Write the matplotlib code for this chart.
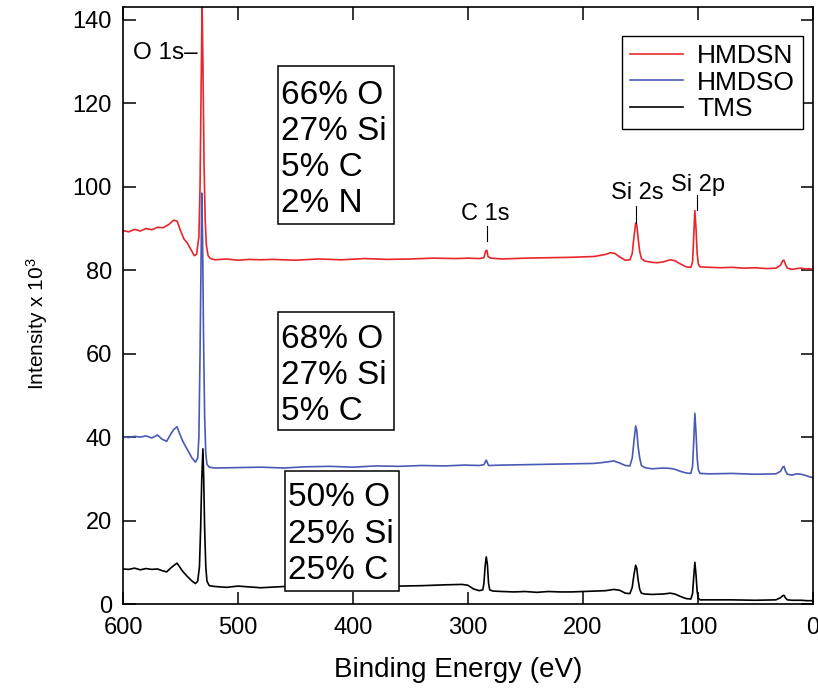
import matplotlib
matplotlib.use("Agg")
import matplotlib.pyplot as plt
from matplotlib.patches import Rectangle

plt.rcParams["font.family"] = ["Liberation Sans", "DejaVu Sans"]
plt.rcParams["mathtext.default"] = "regular"

# survey spectra, binding energy (eV) vs counts (x 10^3)
HMDSN_E = [600, 595, 590, 585, 580, 575, 570, 565, 560, 556, 553, 550, 547, 544, 541, 538, 536,
           534, 533, 532, 531.2, 530.5, 529.5, 528.5, 527.5, 526, 524, 520, 510, 500, 490, 480,
           470, 450, 430, 410, 390, 370, 350, 330, 310, 300, 290, 286, 284.5, 283.5, 282.5, 280,
           270, 250, 230, 210, 190, 180, 176, 172, 168, 163, 159, 157, 155.5, 154, 153, 152,
           150.5, 149, 146, 140, 135, 130, 124, 120, 115, 110, 106, 104.5, 103.5, 102.5, 101.5,
           100.5, 99.5, 98, 90, 80, 70, 60, 50, 40, 32, 28, 26, 25, 23.5, 22, 18, 14, 10, 6, 3, 0]
HMDSN_I = [89.5, 89.2, 89.8, 89.4, 90.0, 89.7, 90.3, 90.2, 91.0, 92.0, 91.8, 89.5, 87.5, 86.5,
           85.0, 83.5, 83.8, 88.0, 100.0, 125.0, 143.5, 130.0, 105.0, 92.0, 86.0, 83.5, 82.8,
           82.5, 82.7, 82.4, 82.6, 82.5, 82.6, 82.4, 82.7, 82.5, 82.8, 82.6, 82.7, 82.9, 82.8,
           82.9, 82.8, 83.0, 84.6, 84.8, 83.3, 82.9, 82.7, 82.9, 83.0, 83.1, 83.3, 83.8, 84.2,
           84.0, 83.2, 82.4, 82.5, 84.0, 88.0, 91.3, 90.8, 88.0, 84.5, 82.8, 82.2, 81.9, 81.8,
           82.0, 82.5, 82.3, 81.5, 80.8, 80.7, 82.0, 88.0, 94.3, 90.0, 84.0, 81.5, 80.8, 80.7,
           80.6, 80.7, 80.5, 80.6, 80.4, 80.5, 81.2, 82.3, 82.4, 81.3, 80.5, 80.2, 80.4, 80.5,
           80.3, 80.4, 80.2]

HMDSO_E = [600, 595, 590, 585, 580, 575, 570, 566, 562, 559, 556, 553, 551, 548, 544, 540, 537,
           535, 534, 533, 532, 531.5, 530.8, 530, 529, 528, 527, 525, 520, 500, 480, 460, 440,
           420, 400, 380, 360, 340, 320, 303, 290, 286, 284, 282, 270, 250, 230, 210, 190, 180,
           173, 168, 163, 159, 157, 155.5, 154, 153, 152, 150.5, 149, 146, 140, 130, 124, 120,
           115, 110, 106, 104.5, 103.5, 102.5, 101.5, 100.5, 99.5, 98, 90, 70, 50, 32, 28, 26,
           25, 23.5, 22, 18, 14, 10, 6, 3, 0]
HMDSO_I = [40.1, 39.9, 40.2, 40.0, 40.3, 39.8, 40.5, 39.5, 39.0, 40.5, 41.8, 42.5, 41.0, 39.0,
           37.0, 35.0, 34.0, 35.0, 40.0, 60.0, 85.0, 98.5, 88.0, 65.0, 45.0, 36.0, 33.5, 32.8,
           32.6, 32.7, 32.8, 32.6, 32.9, 33.0, 32.8, 33.1, 33.0, 33.2, 33.1, 33.3, 33.2, 33.4,
           34.5, 33.2, 33.3, 33.4, 33.5, 33.6, 33.7, 34.0, 34.3, 33.8, 33.2, 33.1, 35.0, 39.0,
           42.7, 41.5, 38.0, 35.0, 33.2, 32.7, 32.4, 32.6, 32.5, 32.3, 31.8, 31.4, 31.3, 33.0,
           39.0, 45.7, 41.0, 35.0, 32.2, 31.3, 31.2, 31.3, 31.1, 31.2, 31.8, 32.8, 33.0, 31.8,
           31.1, 30.9, 31.2, 31.1, 30.8, 30.5, 30.3]

TMS_E = [600, 595, 590, 585, 580, 575, 570, 566, 562, 559, 556, 553, 551, 548, 544, 540, 537,
         535, 533.5, 532.5, 531.5, 530.5, 529.8, 529, 528, 527, 525, 520, 510, 500, 490, 480,
         460, 440, 420, 400, 380, 360, 340, 320, 305, 300, 295, 290, 287, 286, 285, 284, 283,
         282, 281, 278, 270, 260, 250, 240, 230, 220, 210, 200, 190, 180, 173, 168, 163, 159,
         157, 155.5, 154, 153, 152, 150.5, 149, 146, 140, 130, 124, 120, 115, 110, 106, 104.5,
         103.5, 102.5, 101.5, 100.5, 99.5, 98, 90, 70, 50, 32, 28, 26, 25, 23.5, 22, 18, 10, 5, 0]
TMS_I = [8.4, 8.3, 8.6, 8.2, 8.5, 8.3, 8.4, 8.0, 7.7, 8.5, 9.2, 9.8, 9.0, 7.8, 6.6, 5.5, 4.9, 5.5,
         9.0, 18.0, 30.0, 37.2, 30.0, 18.0, 9.0, 5.5, 4.4, 4.2, 4.0, 4.3, 4.1, 3.9, 4.2, 4.1, 4.3,
         4.2, 4.3, 4.3, 4.4, 4.6, 4.7, 4.5, 3.6, 3.2, 3.4, 5.0, 9.0, 11.3, 9.5, 5.0, 3.4, 3.1,
         3.0, 2.9, 3.0, 2.8, 3.0, 2.9, 2.9, 3.0, 3.1, 3.2, 3.5, 3.3, 2.6, 2.5, 4.0, 7.0, 9.3,
         8.5, 6.0, 3.5, 2.6, 2.4, 2.3, 2.4, 2.6, 2.4, 1.8, 1.3, 1.2, 2.5, 6.5, 10.0, 7.0, 3.0,
         1.4, 1.0, 1.0, 1.0, 0.9, 1.0, 1.5, 2.0, 2.1, 1.4, 1.0, 0.9, 0.9, 0.8, 0.8]

SERIES = [("HMDSN", HMDSN_E, HMDSN_I, "#e8262c"),
          ("HMDSO", HMDSO_E, HMDSO_I, "#4a59b5"),
          ("TMS", TMS_E, TMS_I, "black")]

# atomic composition of each film
COMPOSITION = ["66% O\n27% Si\n5% C\n2% N",
               "68% O\n27% Si\n5% C",
               "50% O\n25% Si\n25% C"]
# frame (left, right, bottom, top in data units) and last-line baseline for each box
BOX_FRAMES = [(464.8, 364.6, 91.1, 129.05),
              (464.8, 364.6, 41.6, 69.9),
              (459.5, 360.3, 3.2, 32.0)]
BOX_TEXT_XY = [(462.2, 94.0), (462.2, 44.1), (456.9, 6.1)]

# peak labels: (text, text x, text y, tick x, tick y0, tick y1)
PEAKS = [("C 1s", 284.6, 92.1, 283.3, 86.9, 90.5),
         ("Si 2s", 153.0, 97.0, 153.5, 91.3, 95.3),
         ("Si 2p", 100.0, 99.1, 101.0, 94.5, 98.1)]

fig = plt.figure(figsize=(8.18, 6.9), dpi=100)
ax = fig.add_axes([0.1504, 0.1246, 0.8431, 0.8653])

for name, e, i, c in SERIES:
    ax.plot(e, i, color=c, lw=1.2, label=name)

ax.set_xlim(600, 0)
ax.set_ylim(0, 143.1)
ax.set_xticks([600, 500, 400, 300, 200, 100, 0])
ax.set_yticks(range(0, 141, 20))
ax.tick_params(direction="in", length=9, width=1.1, top=True, right=True, labelsize=17)
ax.tick_params(axis="x", pad=9)
ax.tick_params(axis="y", pad=8)
for s in ax.spines.values():
    s.set_linewidth(1.2)

ax.set_xlabel("Binding Energy (eV)", fontsize=20)
ax.set_ylabel("Intensity x 10$^3$", fontsize=15)
ax.xaxis.set_label_coords(0.486, -0.088)
ax.yaxis.set_label_coords(-0.106, 0.47)

for txt, (x0, x1, y0, y1), (tx, ty) in zip(COMPOSITION, BOX_FRAMES, BOX_TEXT_XY):
    ax.add_patch(Rectangle((x0, y0), x1 - x0, y1 - y0, fc="white", ec="black",
                           lw=1.1, zorder=4))
    ax.text(tx, ty, txt, fontsize=24, ha="left", va="baseline", linespacing=1.21, zorder=5)

ax.text(591.6, 130.6, "O 1s\u2013", fontsize=17.5, ha="left", va="baseline")
for txt, tx, ty, lx, ly0, ly1 in PEAKS:
    ax.text(tx, ty, txt, fontsize=17, ha="center", va="baseline")
    ax.plot([lx, lx], [ly0, ly1], color="black", lw=0.8)

leg = ax.legend(loc="upper right", bbox_to_anchor=(0.986, 0.9514), borderaxespad=0,
                fontsize=19, handlelength=2.0, handletextpad=0.55, labelspacing=0.1,
                borderpad=0.3, fancybox=False, framealpha=1, edgecolor="black")
leg.get_frame().set_linewidth(1.0)

fig.savefig("out.png", dpi=100)
